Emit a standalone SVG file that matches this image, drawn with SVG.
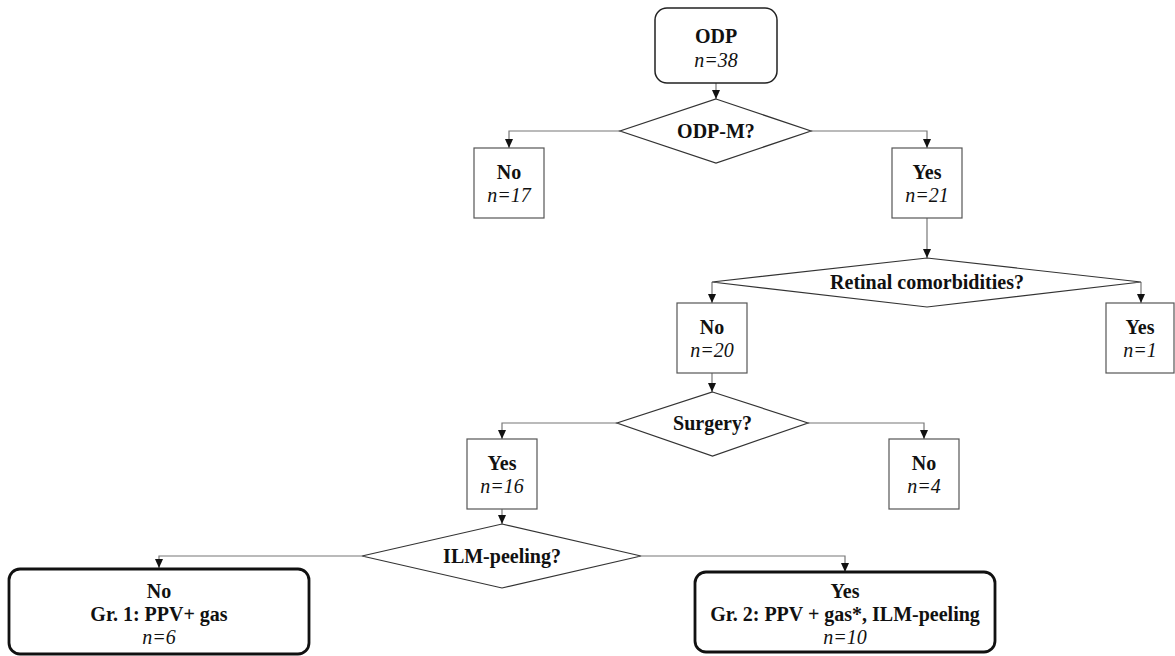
<svg xmlns="http://www.w3.org/2000/svg" width="1175" height="656" viewBox="0 0 1175 656">
<style>
text{font-family:"Liberation Serif","Times New Roman",serif;font-size:20px;fill:#111;text-anchor:middle}
.b{font-weight:bold}
.i{font-style:italic}
.box{fill:#fff;stroke:#555;stroke-width:1.2}
.dia{fill:#fff;stroke:#333;stroke-width:1.2}
.start{fill:#fff;stroke:#222;stroke-width:1.5}
.grp{fill:#fff;stroke:#111;stroke-width:2.8}
.con{fill:none;stroke:#777;stroke-width:1.2}
</style>
<defs>
<marker id="ah" viewBox="0 0 9 8" refX="9" refY="4" markerWidth="9" markerHeight="8" markerUnits="userSpaceOnUse" orient="auto">
<path d="M0,0 L9,4 L0,8 z" fill="#111"/>
</marker>
</defs>
<rect width="1175" height="656" fill="#fff"/>
<g id="connectors">
<path class="con" d="M716,83 V99" marker-end="url(#ah)"/>
<path class="con" d="M620,131 H509 V148" marker-end="url(#ah)"/>
<path class="con" d="M811,131 H927 V148" marker-end="url(#ah)"/>
<path class="con" d="M927,218 V258" marker-end="url(#ah)"/>
<path class="con" d="M712,282 V303" marker-end="url(#ah)"/>
<path class="con" d="M1141,282 V303" marker-end="url(#ah)"/>
<path class="con" d="M712,373 V392" marker-end="url(#ah)"/>
<path class="con" d="M617,423 H502 V439" marker-end="url(#ah)"/>
<path class="con" d="M808,423 H924 V439" marker-end="url(#ah)"/>
<path class="con" d="M502,509 V524" marker-end="url(#ah)"/>
<path class="con" d="M362,556 H159 V568" marker-end="url(#ah)"/>
<path class="con" d="M641,556 H845 V572" marker-end="url(#ah)"/>
</g>
<g id="odp">
<rect class="start" x="655" y="8" width="122" height="75" rx="12"/>
<text class="b" x="716" y="43">ODP</text>
<text class="i" x="716" y="67">n=38</text>
</g>
<g id="odpm">
<polygon class="dia" points="716,99 811,131 716,163 620,131"/>
<text class="b" x="716" y="138">ODP-M?</text>
</g>
<g id="no17">
<rect class="box" x="474" y="148" width="70" height="70"/>
<text class="b" x="509" y="179">No</text>
<text class="i" x="509" y="202">n=17</text>
</g>
<g id="yes21">
<rect class="box" x="892" y="148" width="70" height="70"/>
<text class="b" x="927" y="179">Yes</text>
<text class="i" x="927" y="202">n=21</text>
</g>
<g id="retinal">
<polygon class="dia" points="927,258 1141,282 927,307 712,282"/>
<text class="b" x="927" y="289">Retinal comorbidities?</text>
</g>
<g id="no20">
<rect class="box" x="677" y="303" width="70" height="70"/>
<text class="b" x="712" y="334">No</text>
<text class="i" x="712" y="357">n=20</text>
</g>
<g id="yes1">
<rect class="box" x="1106" y="303" width="68" height="70"/>
<text class="b" x="1140" y="334">Yes</text>
<text class="i" x="1140" y="357">n=1</text>
</g>
<g id="surgery">
<polygon class="dia" points="712.5,392 808,423 712.5,456 617,423"/>
<text class="b" x="712.5" y="430">Surgery?</text>
</g>
<g id="yes16">
<rect class="box" x="467" y="439" width="70" height="70"/>
<text class="b" x="502" y="470">Yes</text>
<text class="i" x="502" y="493">n=16</text>
</g>
<g id="no4">
<rect class="box" x="889" y="439" width="70" height="70"/>
<text class="b" x="924" y="470">No</text>
<text class="i" x="924" y="493">n=4</text>
</g>
<g id="ilm">
<polygon class="dia" points="502,524 641,556 502,588 362,556"/>
<text class="b" x="502" y="563">ILM-peeling?</text>
</g>
<g id="gr1">
<rect class="grp" x="9" y="569" width="300" height="85" rx="11"/>
<text class="b" x="159" y="598">No</text>
<text class="b" x="159" y="621">Gr. 1: PPV+ gas</text>
<text class="i" x="159" y="644">n=6</text>
</g>
<g id="gr2">
<rect class="grp" x="695" y="572" width="300" height="80" rx="11"/>
<text class="b" x="845" y="598">Yes</text>
<text class="b" x="845" y="621">Gr. 2: PPV + gas*, ILM-peeling</text>
<text class="i" x="845" y="644">n=10</text>
</g>
</svg>
